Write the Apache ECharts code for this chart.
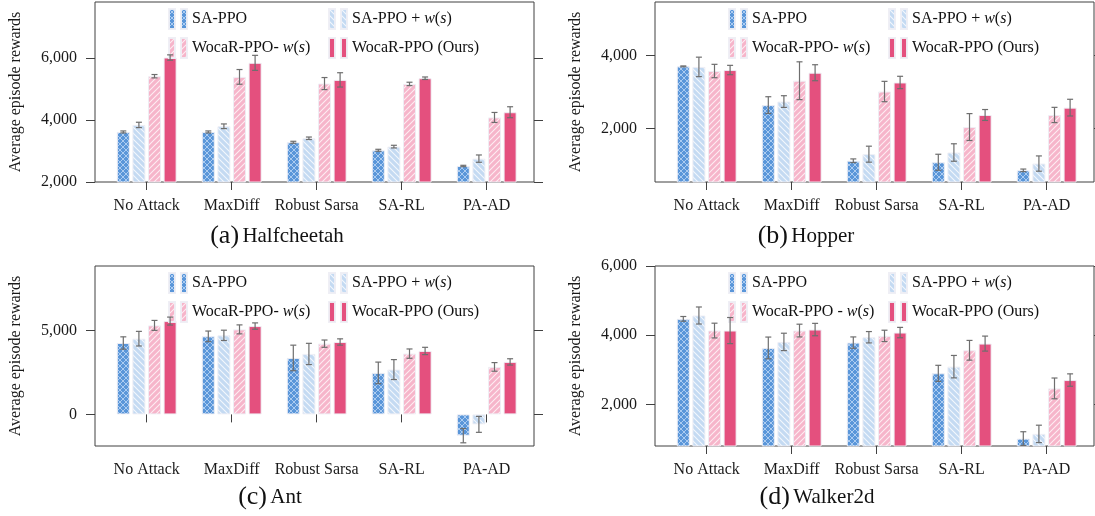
<!DOCTYPE html>
<html>
<head>
<meta charset="utf-8">
<script src="https://cdn.jsdelivr.net/npm/echarts@6/dist/echarts.min.js"></script>
<style>
    html, body { margin: 0; padding: 0; background: #fff; }
    #chart { width: 1095px; height: 516px; }
</style>
</head>
<body>
<div id="chart"></div>
<script>
    var categories = ['No Attack', 'MaxDiff', 'Robust Sarsa', 'SA-RL', 'PA-AD'];

    // Halfcheetah
    var cheetahTicks = [2000, 4000, 6000];
    var cheetahSa = [3613, 3613, 3280, 3022, 2516];
    var cheetahSaErr = [32, 32, 32, 32, 22];
    var cheetahSaW = [3839, 3796, 3409, 3140, 2753];
    var cheetahSaWErr = [86, 75, 40, 43, 118];
    var cheetahWocarW = [5409, 5387, 5172, 5161, 4080];
    var cheetahWocarWErr = [54, 237, 194, 54, 161];
    var cheetahWocar = [6011, 5839, 5290, 5344, 4248];
    var cheetahWocarErr = [86, 242, 231, 40, 177];

    // Hopper
    var hopperTicks = [2000, 4000];
    var hopperSa = [3705, 2640, 1110, 1068, 846];
    var hopperSaErr = [12, 230, 50, 220, 35];
    var hopperSaW = [3690, 2737, 1290, 1336, 1032];
    var hopperSaWErr = [268, 161, 220, 240, 210];
    var hopperWocarW = [3577, 3310, 3013, 2036, 2368];
    var hopperWocarWErr = [184, 520, 280, 370, 210];
    var hopperWocar = [3604, 3530, 3262, 2368, 2570];
    var hopperWocarErr = [129, 220, 170, 150, 230];

    // Ant
    var antTicks = [0, 5000];
    var antSa = [4249, 4644, 3360, 2470, -1265];
    var antSaErr = [366, 316, 760, 642, 425];
    var antSaW = [4506, 4704, 3597, 2668, -593];
    var antSaWErr = [435, 306, 632, 593, 474];
    var antWocarW = [5296, 5059, 4209, 3617, 2826];
    var antWocarWErr = [296, 267, 217, 277, 257];
    var antWocar = [5553, 5257, 4308, 3775, 3123];
    var antWocarErr = [237, 188, 188, 217, 188];

    // Walker2d
    var walkerTicks = [2000, 4000, 6000];
    var walkerSa = [4473, 3633, 3787, 2899, 1014];
    var walkerSaErr = [68, 314, 164, 232, 198];
    var walkerSaW = [4570, 3807, 3942, 3092, 1150];
    var walkerSaWErr = [246, 251, 164, 324, 251];
    var walkerWocarW = [4135, 4135, 3981, 3565, 2464];
    var walkerWocarWErr = [213, 184, 164, 285, 300];
    var walkerWocar = [4135, 4164, 4077, 3758, 2705];
    var walkerWocarErr = [377, 179, 150, 217, 179];

    var FONT = 'Liberation Serif';
    var BAR_W = 13;
    var BAR_GAP = 0.2;
    var ERR_COLOR = '#6e6e6e';
    var FRAME_COLOR = '#404040';

    // hatched fills
    function hatch(bg, line, dirs, size, lw) {
        var c = document.createElement('canvas');
        c.width = c.height = size;
        var g = c.getContext('2d');
        g.fillStyle = bg;
        g.fillRect(0, 0, size, size);
        g.strokeStyle = line;
        g.lineWidth = lw;
        dirs.forEach(function(d) {
            g.beginPath();
            if (d === '/') {
                g.moveTo(0, size); g.lineTo(size, 0);
                g.moveTo(-1, 1); g.lineTo(1, -1);
                g.moveTo(size - 1, size + 1); g.lineTo(size + 1, size - 1);
            } else {
                g.moveTo(0, 0); g.lineTo(size, size);
                g.moveTo(size - 1, -1); g.lineTo(size + 1, 1);
                g.moveTo(-1, size - 1); g.lineTo(1, size + 1);
            }
            g.stroke();
        });
        return { image: c, repeat: 'repeat' };
    }

    var fills = [
        hatch('#5a96d9', 'rgba(200,222,248,0.75)', ['/', '\\'], 6, 1),
        hatch('#c4daf2', 'rgba(255,255,255,0.8)', ['\\'], 6, 1.1),
        hatch('#f6b5ca', 'rgba(255,255,255,0.75)', ['/'], 6, 1.1),
        '#e4507e'
    ];

    var ICON = 'path://M0,0H6V20H0Z M12,0H18V20H12Z';

    var panels = [
        { id: 'a', head: '(a)', name: 'Halfcheetah', left: 95, top: 2, min: 2000, max: 7800, ticks: cheetahTicks,
          vals: [cheetahSa, cheetahSaW, cheetahWocarW, cheetahWocar],
          errs: [cheetahSaErr, cheetahSaWErr, cheetahWocarWErr, cheetahWocarErr],
          minus: 'WocaR-PPO- ', tx: 277, ty: 236 },
        { id: 'b', head: '(b)', name: 'Hopper', left: 655, top: 2, min: 525, max: 5475, ticks: hopperTicks,
          vals: [hopperSa, hopperSaW, hopperWocarW, hopperWocar],
          errs: [hopperSaErr, hopperSaWErr, hopperWocarWErr, hopperWocarErr],
          minus: 'WocaR-PPO- ', tx: 806, ty: 236 },
        { id: 'c', head: '(c)', name: 'Ant', left: 95, top: 266, min: -1880, max: 8830, ticks: antTicks,
          vals: [antSa, antSaW, antWocarW, antWocar],
          errs: [antSaErr, antSaWErr, antWocarWErr, antWocarErr],
          minus: 'WocaR-PPO- ', tx: 270, ty: 497 },
        { id: 'd', head: '(d)', name: 'Walker2d', left: 655, top: 266, min: 800, max: 6000, ticks: walkerTicks,
          vals: [walkerSa, walkerSaW, walkerWocarW, walkerWocar],
          errs: [walkerSaErr, walkerSaWErr, walkerWocarWErr, walkerWocarErr],
          minus: 'WocaR-PPO - ', tx: 817, ty: 497 }
    ];

    var labels = {};
    var grid = [], xAxis = [], yAxis = [], series = [], legend = [], graphic = [];

    function errRender(params, api) {
        var cat = api.value(0), k = api.value(1), v = api.value(2), e = api.value(3);
        var x = api.coord([cat, v])[0] + (k - 1.5) * BAR_W * (1 + BAR_GAP);
        var y1 = api.coord([cat, v + e])[1];
        var y2 = api.coord([cat, v - e])[1];
        var st = { stroke: ERR_COLOR, lineWidth: 1.2 };
        return {
            type: 'group',
            children: [
                { type: 'line', shape: { x1: x, y1: y1, x2: x, y2: y2 }, style: st },
                { type: 'line', shape: { x1: x - 3, y1: y1, x2: x + 3, y2: y1 }, style: st },
                { type: 'line', shape: { x1: x - 3, y1: y2, x2: x + 3, y2: y2 }, style: st }
            ]
        };
    }

    panels.forEach(function(p, i) {
        var lab = ['SA-PPO', 'SA-PPO + {i|w}({i|s})', p.minus + '{i|w}({i|s})', 'WocaR-PPO (Ours)'];

        grid.push({ left: p.left, top: p.top, width: 439, height: 180, show: true, borderColor: FRAME_COLOR,
            borderWidth: 1, backgroundColor: 'transparent', outerBoundsMode: 'none' });
        grid.push({ left: p.left + 9.2, top: p.top, width: 425, height: 180, outerBoundsMode: 'none' });

        xAxis.push({ gridIndex: 2 * i, type: 'value', min: 0, max: 1, show: false });
        xAxis.push({
            gridIndex: 2 * i + 1, type: 'category', data: categories,
            axisLine: { show: false },
            axisTick: { show: true, alignWithLabel: true, length: 8, lineStyle: { color: FRAME_COLOR } },
            axisLabel: { margin: 16, color: '#1a1a1a', fontFamily: FONT, fontSize: 16, interval: 0 }
        });

        yAxis.push({
            gridIndex: 2 * i, type: 'value', min: p.min, max: p.max, position: 'left',
            name: 'Average episode rewards', nameLocation: 'middle', nameGap: 71,
            nameTextStyle: { fontFamily: FONT, fontSize: 16, color: '#1a1a1a' },
            axisLine: { show: false },
            axisTick: { show: true, length: 9, customValues: p.ticks, lineStyle: { color: FRAME_COLOR } },
            axisLabel: { customValues: p.ticks, margin: 18, color: '#1a1a1a', fontFamily: FONT, fontSize: 16,
                formatter: function(v) { return Number(v).toLocaleString('en-US'); } },
            splitLine: { show: false }
        });
        yAxis.push({
            gridIndex: 2 * i, type: 'value', min: p.min, max: p.max, position: 'right',
            axisLine: { show: false },
            axisTick: { show: true, length: 9, customValues: p.ticks, lineStyle: { color: FRAME_COLOR } },
            axisLabel: { show: false },
            splitLine: { show: false }
        });
        yAxis.push({ gridIndex: 2 * i + 1, type: 'value', min: p.min, max: p.max, show: false, splitLine: { show: false } });

        var errData = [];
        p.vals.forEach(function(vals, k) {
            var nm = p.id + k;
            labels[nm] = lab[k];
            series.push({
                type: 'bar', name: nm, xAxisIndex: 2 * i + 1, yAxisIndex: 3 * i + 2,
                data: vals, barWidth: BAR_W, barGap: (BAR_GAP * 100) + '%',
                itemStyle: { color: fills[k], borderColor: 'rgba(238,238,244,0.95)', borderWidth: 1 },
                emphasis: { disabled: true }, animation: false
            });
            vals.forEach(function(v, c) { errData.push([c, k, v, p.errs[k][c]]); });

            legend.push({
                data: [nm], left: p.left + 73 + (k % 2) * 160, top: p.top + 6 + Math.floor(k / 2) * 29,
                padding: 0, itemWidth: 18, itemHeight: 20, icon: ICON, selectedMode: false,
                formatter: function(n) { return labels[n]; },
                textStyle: { fontFamily: FONT, fontSize: 16, color: '#111',
                    rich: { i: { fontFamily: FONT, fontSize: 16, fontStyle: 'italic', color: '#111' } } }
            });
        });

        series.push({
            type: 'custom', xAxisIndex: 2 * i + 1, yAxisIndex: 3 * i + 2, data: errData,
            encode: { x: 0, y: 2 }, renderItem: errRender, z: 10, silent: true, animation: false
        });

        graphic.push({
            type: 'text', x: p.tx, y: p.ty,
            style: {
                text: '{h|' + p.head + '} {n|' + p.name + '}',
                align: 'center', verticalAlign: 'middle', fill: '#111',
                rich: {
                    h: { fontFamily: FONT, fontSize: 26, fill: '#111' },
                    n: { fontFamily: FONT, fontSize: 21, fill: '#111' }
                }
            }
        });
    });

    var chart = echarts.init(document.getElementById('chart'));
    chart.setOption({
        animation: false,
        grid: grid,
        xAxis: xAxis,
        yAxis: yAxis,
        legend: legend,
        series: series,
        graphic: graphic
    });
</script>
</body>
</html>
